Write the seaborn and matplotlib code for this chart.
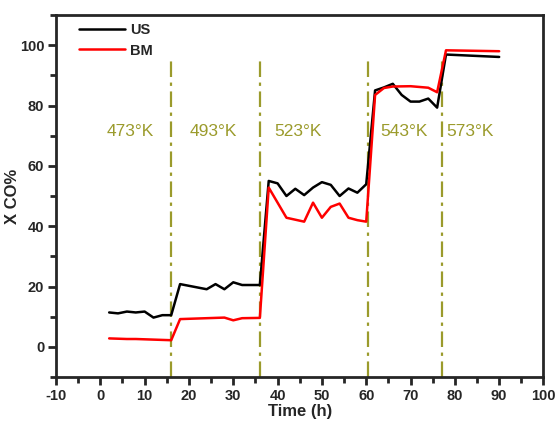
import pandas as pd
import seaborn as sns
import matplotlib.pyplot as plt
from matplotlib.ticker import MultipleLocator

# CO conversion over time for the two catalysts
us_time = [2, 4, 6, 8, 10, 12, 14, 16, 18, 24, 26, 28, 30, 32, 36,
           38, 40, 42, 44, 46, 48, 50, 52, 54, 56, 58, 60,
           62, 64, 66, 68, 70, 72, 74, 76, 78, 90]
us_conv = [11.4, 11.1, 11.7, 11.4, 11.7, 9.7, 10.5, 10.5, 20.8, 19.1, 20.8, 19.1, 21.4, 20.5, 20.5,
           55, 54.2, 50, 52.4, 50.3, 52.8, 54.6, 53.7, 50, 52.5, 51.1, 53.9,
           85, 86, 87.2, 83.5, 81.3, 81.3, 82.3, 79.3, 96.9, 96.1]

bm_time = [2, 4, 6, 8, 10, 12, 14, 16, 18, 28, 30, 32, 36,
           38, 42, 46, 48, 50, 52, 54, 56, 58, 60,
           62, 64, 66, 70, 74, 76, 78, 90]
bm_conv = [2.8, 2.7, 2.6, 2.6, 2.5, 2.4, 2.3, 2.2, 9.2, 9.7, 8.8, 9.5, 9.6,
           52.8, 42.8, 41.5, 47.8, 42.8, 46.4, 47.5, 42.8, 42, 41.5,
           83.5, 85.8, 86.3, 86.4, 85.9, 84.4, 98.3, 98]

# temperature steps
step_times = [16, 36, 60.5, 77]
temp_labels = ["473°K", "493°K", "523°K", "543°K", "573°K"]
temp_label_x = [6.8, 25.5, 44.7, 68.5, 83.4]

df = pd.concat([
    pd.DataFrame({"time": us_time, "conv": us_conv, "cat": "US"}),
    pd.DataFrame({"time": bm_time, "conv": bm_conv, "cat": "BM"}),
])

sns.set_style("ticks")
plt.rcParams["font.family"] = ["Liberation Sans", "DejaVu Sans"]
plt.rcParams["axes.unicode_minus"] = False

fig = plt.figure(figsize=(5.56, 4.23), dpi=100)
ax = fig.add_axes([0.1007, 0.1087, 0.8768, 0.8558])

olive = "#9b9b2c"
ax.vlines(step_times, -10, 96.2, colors=olive, linewidth=1.6,
          linestyles=[(0, (7, 2.5, 1.5, 2.5))], zorder=1)

sns.lineplot(data=df, x="time", y="conv", hue="cat", palette={"US": "black", "BM": "red"},
             linewidth=1.8, sort=False, estimator=None, ax=ax, zorder=3)

for x, lab in zip(temp_label_x, temp_labels):
    ax.text(x, 71.5, lab, color=olive, fontsize=12.5, ha="center", va="center")

ax.set_xlim(-10, 100)
ax.set_ylim(-10, 110)
ax.xaxis.set_major_locator(MultipleLocator(10))
ax.xaxis.set_minor_locator(MultipleLocator(5))
ax.yaxis.set_major_locator(MultipleLocator(20))
ax.yaxis.set_minor_locator(MultipleLocator(10))
ax.set_yticks([0, 20, 40, 60, 80, 100])
ax.tick_params(which="major", length=6, width=2, direction="out", labelsize=10.5, pad=2.5)
ax.tick_params(which="minor", length=4, width=2, direction="out")
for lab in ax.get_xticklabels() + ax.get_yticklabels():
    lab.set_fontweight("bold")
for s in ax.spines.values():
    s.set_linewidth(2)

ax.set_xlabel("Time (h)", fontsize=12, fontweight="bold", labelpad=1)
ax.set_ylabel("X CO%", fontsize=12, fontweight="bold", labelpad=0)

ax.legend(loc="upper left", bbox_to_anchor=(0.03, 1.0), frameon=False,
          prop={"weight": "bold", "size": 10.5}, handlelength=3.2, handletextpad=0.3,
          labelspacing=0.45, borderaxespad=0.15)

fig.savefig("out.png", dpi=100)
